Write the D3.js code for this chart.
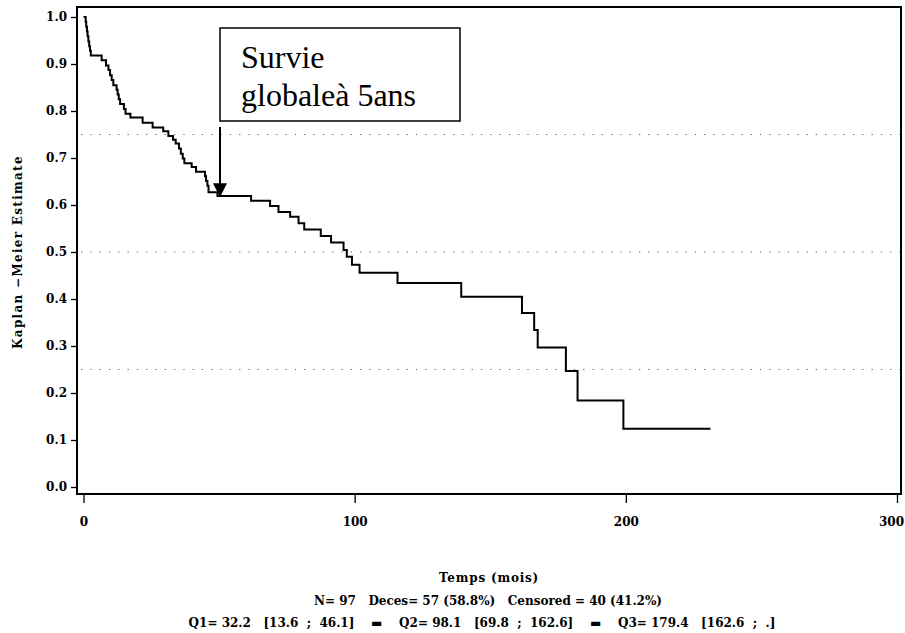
<!DOCTYPE html>
<html>
<head>
<meta charset="utf-8">
<script src="https://cdn.jsdelivr.net/npm/d3@7"></script>
<style>
  body { margin: 0; background: #fff; }
  svg { display: block; }
  .tick text { font-family: "DejaVu Serif", serif; font-weight: bold; font-size: 12px; fill: #000; }
  .tick line { stroke: #000; stroke-width: 1.3; }
</style>
</head>
<body>
<div id="chart"></div>
<script>
// Kaplan-Meier steps: time (months) at which survival drops, and survival after the drop
var stepTimes = [0, 0.8, 1.0, 1.3, 1.5, 1.8, 2.1, 2.4, 2.7, 6.7, 8.3, 9.2, 9.8, 10.4, 11.0,
  12.2, 12.6, 13.0, 13.5, 14.9, 15.5, 17.3, 21.8, 25.5, 29.4, 31.3, 33.0, 34.0, 35.2,
  35.9, 36.6, 37.2, 39.9, 41.5, 44.8, 45.2, 45.7, 46.1, 49.4, 61.8, 68.8, 71.9, 76.2,
  79.3, 81.4, 87.5, 91.3, 95.9, 97.1, 99.0, 101.8, 115.8, 139.3, 161.7, 166.2, 167.5,
  177.9, 182.2, 199.1];
var survival = [1.0, 0.990, 0.979, 0.969, 0.959, 0.948, 0.938, 0.928, 0.918, 0.908, 0.897,
  0.887, 0.876, 0.866, 0.855, 0.845, 0.835, 0.825, 0.815, 0.804, 0.794, 0.786, 0.775,
  0.765, 0.757, 0.747, 0.739, 0.731, 0.720, 0.709, 0.699, 0.689, 0.681, 0.671, 0.661,
  0.651, 0.641, 0.627, 0.619, 0.609, 0.598, 0.585, 0.575, 0.561, 0.548, 0.534, 0.520,
  0.504, 0.490, 0.473, 0.456, 0.434, 0.405, 0.370, 0.334, 0.297, 0.247, 0.184, 0.124];
var lastTime = 231.2;

var yTicks = [0, 0.1, 0.2, 0.3, 0.4, 0.5, 0.6, 0.7, 0.8, 0.9, 1.0];
var xTicks = [0, 100, 200, 300];
var refLines = [0.25, 0.5, 0.75];

var xLabel = 'Temps (mois)';
var yLabel = 'Kaplan \u2212Meier Estimate';
var noteLines = ['Survie', 'globale\u00e0 5ans'];
var footer = [
  'N= 97   Deces= 57 (58.8%)   Censored = 40 (41.2%)',
  'Q1= 32.2   [13.6  ;  46.1]    \u25AC    Q2= 98.1   [69.8  ;  162.6]    \u25AC    Q3= 179.4   [162.6  ;  .]'
];

var W = 905, H = 633;
var frame = {left: 77, right: 901, top: 7, bottom: 494};

var x = d3.scaleLinear().domain([0, 300]).range([83.5, 897]);
var y = d3.scaleLinear().domain([0, 1]).range([487, 17]);

var svg = d3.select('#chart').append('svg')
  .attr('width', W)
  .attr('height', H);

// Dotted reference lines
svg.selectAll('.ref')
  .data(refLines)
  .enter().append('line')
  .attr('class', 'ref')
  .attr('x1', frame.left + 4)
  .attr('x2', frame.right)
  .attr('y1', function (d) { return y(d); })
  .attr('y2', function (d) { return y(d); })
  .attr('stroke', '#666')
  .attr('stroke-width', 1)
  .attr('stroke-dasharray', '1.3,8');

// Survival curve
var pts = stepTimes.map(function (t, i) { return [t, survival[i]]; });
pts.push([lastTime, survival[survival.length - 1]]);
var line = d3.line()
  .curve(d3.curveStepAfter)
  .x(function (d) { return x(d[0]); })
  .y(function (d) { return y(d[1]); });

svg.append('path')
  .datum(pts)
  .attr('d', line)
  .attr('fill', 'none')
  .attr('stroke', '#000')
  .attr('stroke-width', 2);

// Frame
svg.append('rect')
  .attr('x', frame.left)
  .attr('y', frame.top)
  .attr('width', frame.right - frame.left)
  .attr('height', frame.bottom - frame.top)
  .attr('fill', 'none')
  .attr('stroke', '#000')
  .attr('stroke-width', 2);

// Axes
var yAxis = d3.axisLeft(y)
  .tickValues(yTicks)
  .tickFormat(d3.format('.1f'))
  .tickSize(6)
  .tickPadding(4);
svg.append('g')
  .attr('transform', 'translate(' + frame.left + ',0)')
  .call(yAxis)
  .call(function (g) { g.select('.domain').remove(); });

var xAxis = d3.axisBottom(x)
  .tickValues(xTicks)
  .tickFormat(d3.format('d'))
  .tickSize(9)
  .tickPadding(14);
svg.append('g')
  .attr('transform', 'translate(0,' + frame.bottom + ')')
  .call(xAxis)
  .call(function (g) {
    g.select('.domain').remove();
    // keep the last label inside the page
    g.selectAll('.tick text').filter(function (d) { return d === 300; }).attr('dx', -6);
  });

// Axis titles
svg.append('text')
  .attr('transform', 'translate(22,252) rotate(-90)')
  .attr('text-anchor', 'middle')
  .style('font', 'bold 12px "DejaVu Serif", serif')
  .style('letter-spacing', '1.3px')
  .text(yLabel);

svg.append('text')
  .attr('x', 489)
  .attr('y', 582)
  .attr('text-anchor', 'middle')
  .style('font', 'bold 12px "DejaVu Serif", serif')
  .style('letter-spacing', '0.8px')
  .text(xLabel);

// Footer
svg.selectAll('.foot')
  .data(footer)
  .enter().append('text')
  .attr('class', 'foot')
  .attr('x', function (d, i) { return i === 0 ? 488 : 482; })
  .attr('y', function (d, i) { return 605 + i * 22; })
  .attr('text-anchor', 'middle')
  .attr('xml:space', 'preserve')
  .style('white-space', 'pre')
  .style('font', 'bold 12px "DejaVu Serif", serif')
  .text(function (d) { return d; });

// Annotation box and arrow
var note = svg.append('g');
note.append('rect')
  .attr('x', 220)
  .attr('y', 28)
  .attr('width', 240)
  .attr('height', 93)
  .attr('fill', '#fff')
  .attr('stroke', '#000')
  .attr('stroke-width', 1.5);
note.selectAll('text')
  .data(noteLines)
  .enter().append('text')
  .attr('x', 241)
  .attr('y', function (d, i) { return 68 + i * 38; })
  .style('font', '32px "Liberation Serif", "Times New Roman", serif')
  .text(function (d) { return d; });

var tipY = y(survival[37]) + 5;
note.append('line')
  .attr('x1', 220)
  .attr('x2', 220)
  .attr('y1', 127)
  .attr('y2', tipY - 12)
  .attr('stroke', '#000')
  .attr('stroke-width', 2);
note.append('path')
  .attr('d', 'M213,' + (tipY - 14) + 'L227,' + (tipY - 14) + 'L220,' + tipY + 'Z')
  .attr('fill', '#000');
</script>
</body>
</html>
